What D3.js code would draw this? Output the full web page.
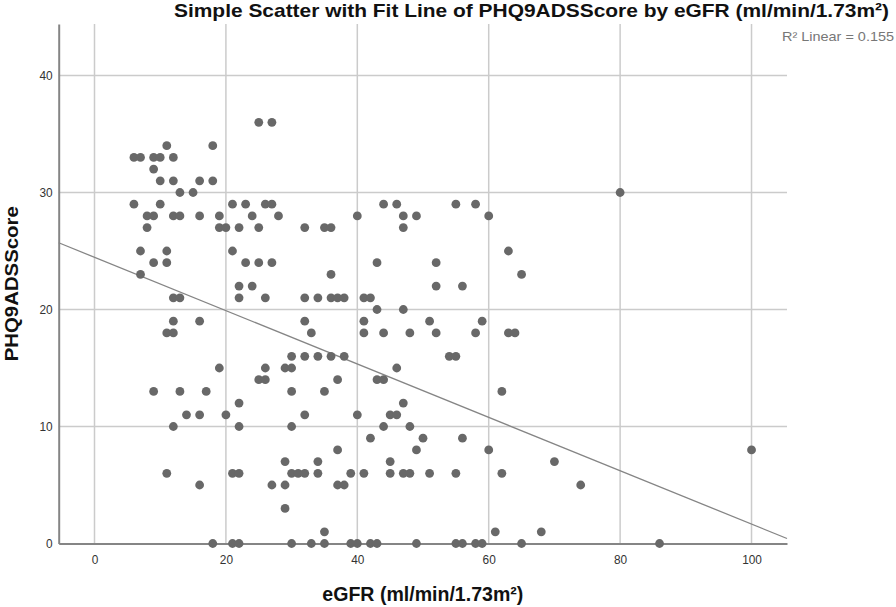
<!DOCTYPE html>
<html>
<head>
<meta charset="utf-8">
<script src="https://cdn.jsdelivr.net/npm/d3@7"></script>
<style>
  body { margin: 0; background: #fff; }
  text { font-family: Arial, "Liberation Sans", sans-serif; }
</style>
</head>
<body>
<svg id="chart" width="896" height="607"></svg>
<script>
// eGFR values, one per subject
const egfr = [
  25, 27,
  11, 18,
  6, 7, 9, 10, 12,
  9,
  10, 12, 16, 18,
  13, 15, 80,
  6, 10, 21, 23, 26, 27, 44, 46, 55, 58,
  8, 9, 12, 13, 16, 19, 24, 28, 40, 47, 49, 60,
  8, 19, 20, 22, 25, 32, 35, 36, 47,
  7, 11, 21, 63,
  9, 11, 23, 25, 27, 43, 52,
  7, 36, 65,
  22, 24, 52, 56,
  12, 13, 22, 26, 32, 34, 36, 37, 38, 41, 42,
  43, 47,
  12, 16, 32, 41, 51, 59,
  11, 12, 33, 41, 44, 48, 52, 58, 63, 64,
  30, 32, 34, 36, 38, 54, 55,
  19, 26, 29, 30, 46,
  25, 26, 37, 43, 44,
  9, 13, 17, 30, 35, 62,
  22, 47,
  14, 16, 20, 32, 40, 45, 46,
  12, 22, 30, 44, 48,
  42, 50, 56,
  37, 49, 60, 100,
  29, 34, 45, 70,
  11, 21, 22, 30, 31, 32, 34, 39, 41, 45, 47, 48, 51, 55, 62,
  16, 27, 29, 37, 38, 74,
  29,
  35, 61, 68,
  18, 21, 22, 30, 33, 35, 39, 40, 42, 43, 49, 55, 56, 58, 59, 65, 86
];
// PHQ9ADS score, same order
const phq = [
  36, 36,
  34, 34,
  33, 33, 33, 33, 33,
  32,
  31, 31, 31, 31,
  30, 30, 30,
  29, 29, 29, 29, 29, 29, 29, 29, 29, 29,
  28, 28, 28, 28, 28, 28, 28, 28, 28, 28, 28, 28,
  27, 27, 27, 27, 27, 27, 27, 27, 27,
  25, 25, 25, 25,
  24, 24, 24, 24, 24, 24, 24,
  23, 23, 23,
  22, 22, 22, 22,
  21, 21, 21, 21, 21, 21, 21, 21, 21, 21, 21,
  20, 20,
  19, 19, 19, 19, 19, 19,
  18, 18, 18, 18, 18, 18, 18, 18, 18, 18,
  16, 16, 16, 16, 16, 16, 16,
  15, 15, 15, 15, 15,
  14, 14, 14, 14, 14,
  13, 13, 13, 13, 13, 13,
  12, 12,
  11, 11, 11, 11, 11, 11, 11,
  10, 10, 10, 10, 10,
  9, 9, 9,
  8, 8, 8, 8,
  7, 7, 7, 7,
  6, 6, 6, 6, 6, 6, 6, 6, 6, 6, 6, 6, 6, 6, 6,
  5, 5, 5, 5, 5, 5,
  3,
  1, 1, 1,
  0, 0, 0, 0, 0, 0, 0, 0, 0, 0, 0, 0, 0, 0, 0, 0, 0
];

const xTicks = [0, 20, 40, 60, 80, 100];
const yTicks = [0, 10, 20, 30, 40];

// linear fit, R² = 0.155
const fitIntercept = 24.46;
const fitSlope = -0.228;
const rSquared = "0.155";

const margin = { top: 24, right: 109, bottom: 63.5, left: 58.7 };
const svgW = 896, svgH = 607;
const width = svgW - margin.left - margin.right;
const height = svgH - margin.top - margin.bottom;

const data = egfr.map((d, i) => ({ x: d, y: phq[i] }));

const x = d3.scaleLinear().domain([-5.45, 105.4]).range([0, width]);
const y = d3.scaleLinear().domain([0, 44.4]).range([height, 0]);

const svg = d3.select("#chart");
const g = svg.append("g").attr("transform", `translate(${margin.left},${margin.top})`);

// grid
g.append("g").selectAll("line.vg")
  .data(xTicks)
  .join("line")
  .attr("x1", d => x(d)).attr("x2", d => x(d))
  .attr("y1", 0).attr("y2", height)
  .attr("stroke", "#cbcbcb").attr("stroke-width", 1.5);

g.append("g").selectAll("line.hg")
  .data(yTicks.filter(d => d > 0))
  .join("line")
  .attr("x1", 0).attr("x2", width)
  .attr("y1", d => y(d)).attr("y2", d => y(d))
  .attr("stroke", "#cbcbcb").attr("stroke-width", 1.5);

// axes
const xAxis = g.append("g")
  .attr("transform", `translate(0,${height})`)
  .call(d3.axisBottom(x).tickValues(xTicks).tickSize(0).tickPadding(11));
const yAxis = g.append("g")
  .call(d3.axisLeft(y).tickValues(yTicks).tickSize(0).tickPadding(6));

[xAxis, yAxis].forEach(a => {
  a.select(".domain").attr("stroke", "#858585").attr("stroke-width", 2);
  a.selectAll(".tick text")
    .attr("font-size", 13)
    .attr("fill", "#333")
    .attr("textLength", d => String(d).length * 6.6)
    .attr("lengthAdjust", "spacingAndGlyphs")
    .style("font-family", "Arial, 'Liberation Sans', sans-serif");
});

// fit line
g.append("line")
  .attr("x1", x(x.domain()[0])).attr("y1", y(fitIntercept + fitSlope * x.domain()[0]))
  .attr("x2", x(x.domain()[1])).attr("y2", y(fitIntercept + fitSlope * x.domain()[1]))
  .attr("stroke", "#858585").attr("stroke-width", 1.3);

// points
g.selectAll(".dot")
  .data(data)
  .join("circle")
  .attr("class", "dot")
  .attr("cx", d => x(d.x))
  .attr("cy", d => y(d.y))
  .attr("r", 4.4)
  .attr("fill", "#686868");

// title and labels
svg.append("text")
  .attr("x", 174).attr("y", 17)
  .attr("font-size", 19).attr("font-weight", "bold").attr("fill", "#111")
  .attr("textLength", 715).attr("lengthAdjust", "spacingAndGlyphs")
  .text("Simple Scatter with Fit Line of PHQ9ADSScore by eGFR (ml/min/1.73m²)");

svg.append("text")
  .attr("x", margin.left + width / 2).attr("y", 601)
  .attr("text-anchor", "middle")
  .attr("font-size", 20).attr("font-weight", "bold").attr("fill", "#111")
  .attr("textLength", 201).attr("lengthAdjust", "spacingAndGlyphs")
  .text("eGFR (ml/min/1.73m²)");

svg.append("text")
  .attr("transform", `translate(18,${margin.top + height / 2}) rotate(-90)`)
  .attr("text-anchor", "middle")
  .attr("font-size", 19).attr("font-weight", "bold").attr("fill", "#111")
  .attr("textLength", 155).attr("lengthAdjust", "spacingAndGlyphs")
  .text("PHQ9ADSScore");

svg.append("text")
  .attr("x", 782).attr("y", 41)
  .attr("font-size", 13).attr("fill", "#777")
  .attr("textLength", 112).attr("lengthAdjust", "spacingAndGlyphs")
  .text(`R² Linear = ${rSquared}`);
</script>
</body>
</html>
